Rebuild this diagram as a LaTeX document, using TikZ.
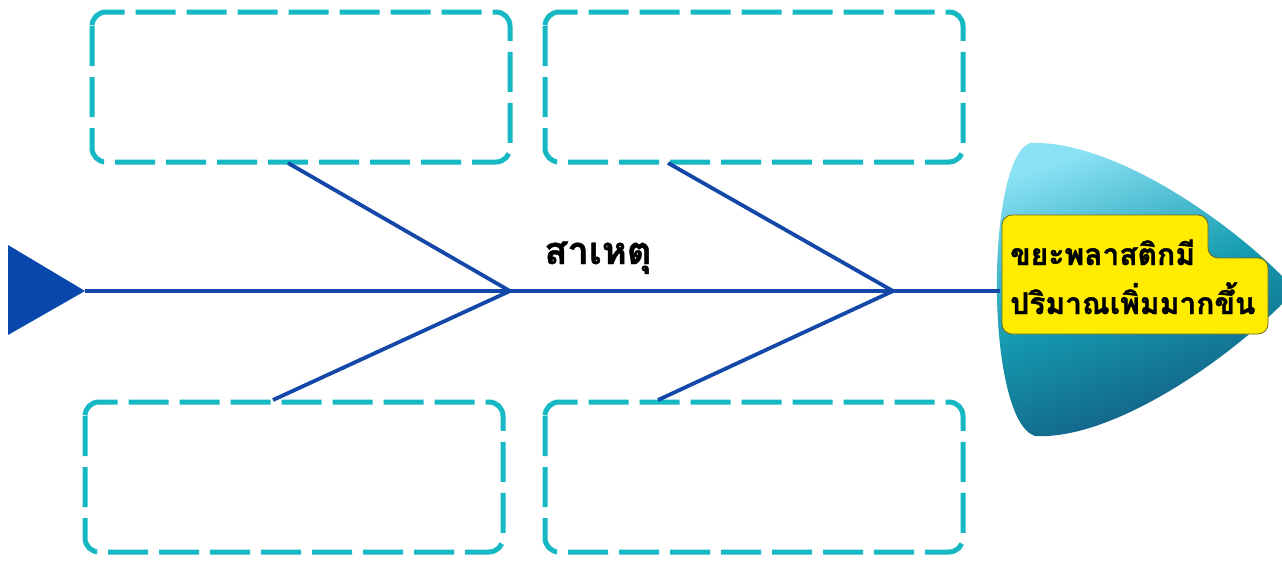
\documentclass[tikz,border=0pt]{standalone}
\usepackage{fontspec}
\newfontfamily\thaifont[Script=Thai, BoldFeatures={FakeBold=1.2}]{Loma}
\definecolor{boxcyan}{RGB}{22,184,196}
\definecolor{boneblue}{RGB}{20,72,168}
\definecolor{tailblue}{RGB}{8,72,172}
\definecolor{headlight}{RGB}{140,226,245}
\definecolor{headdark}{RGB}{18,88,128}
\definecolor{labelyellow}{RGB}{255,236,0}
\tikzset{
  catbox/.style={draw=boxcyan, line width=5pt, rounded corners=14pt, dash pattern=on 40pt off 11pt},
  bone/.style={draw=boneblue, line width=3.8pt},
  headtext/.style={font=\thaifont\bfseries\fontsize{30}{30}\selectfont, anchor=base west, inner sep=0},
}
\begin{document}
\begin{tikzpicture}[x=1pt,y=-1pt]
\useasboundingbox (0,0) rectangle (1282,560);
% boxes
\draw[catbox] (92,12) rectangle (510,162);
\draw[catbox] (545,12) rectangle (963,162);
\draw[catbox] (85,402) rectangle (503,552);
\draw[catbox] (545,402) rectangle (963,552);
\coordinate (tl) at (288,163);
\coordinate (bl) at (273,400);
\coordinate (tr) at (668,163);
\coordinate (br) at (658,400);
\coordinate (j1) at (510,291);
\coordinate (j2) at (893,291);
% head
\begin{scope}
\clip (0,0) rectangle (1282,560);
\shade[top color=headlight, bottom color=headdark, middle color=boxcyan!70!headdark, shading angle=20]
  (1030,143) .. controls (1110,140) and (1220,215) .. (1278,272)
  .. controls (1292,285) and (1292,295) .. (1278,308)
  .. controls (1220,365) and (1110,440) .. (1035,436)
  .. controls (985,420) and (985,160) .. cycle;
\end{scope}
\coordinate (head) at (1000,291);
% tail
\fill[tailblue] (8,245) -- (85,291) -- (8,335) -- cycle;
\coordinate (tail) at (85,291);
% spine & bones
\draw[bone] (tail) -- (head);
\draw[bone] (tl) -- (j1) -- (bl);
\draw[bone] (tr) -- (j2) -- (br);
% yellow label
\draw[fill=labelyellow, draw=olive!70!black, line width=0.8pt, rounded corners=10pt]
  (1002,215) -- (1208,215) -- (1208,258) -- (1268,258) -- (1268,334) -- (1002,334) -- cycle;
\node[headtext] (h1) at (1010,265) {ขยะพลาสติกมี};
\node[headtext] (h2) at (1010,314) {ปริมาณเพิ่มมากขึ้น};
\node[font=\thaifont\bfseries\fontsize{38}{38}\selectfont, anchor=base, inner sep=0] (cause) at (598,264) {สาเหตุ};
\end{tikzpicture}
\end{document}
